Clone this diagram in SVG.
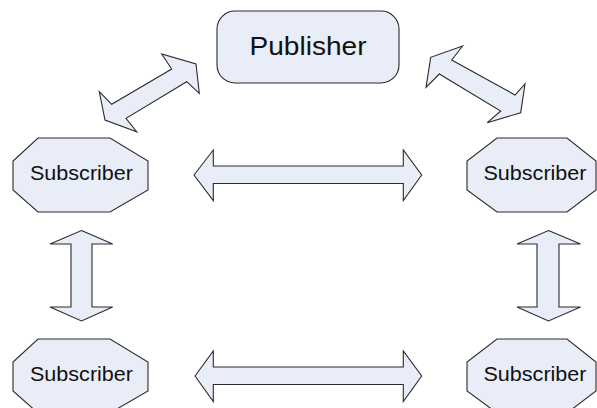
<svg xmlns="http://www.w3.org/2000/svg" width="597" height="408" viewBox="0 0 597 408">
<style>
.shape{fill:#e8edf8;stroke:#2b2b2b;stroke-width:1.1;stroke-linejoin:miter}
.arrow{fill:#e8edf8;stroke:#2b2b2b;stroke-width:1.1;stroke-linejoin:miter}
.lbl{font-family:"Liberation Sans",Arial,sans-serif;fill:#111;text-anchor:middle}
.sub{font-size:19.5px}
.pub{font-size:25px}
</style>
<rect width="597" height="408" fill="#ffffff"/>
<g id="connectors">
<polygon class="arrow" points="99.3,91.7 111.7,104.3 171.7,69 161.7,54 196,64 199.3,93.3 186.7,81.7 126,118.3 136.7,131.7 105,120"/>
<polygon class="arrow" points="462.7,46 430.7,57.3 426,87.3 439.3,74 500.7,111 487.3,122.7 520.7,112.7 525,84 515,95 451.7,60"/>
<polygon class="arrow" points="194,175 213.3,150 213.3,166 403.3,166 403.3,150 421.7,175 403.3,200.5 403.3,183.5 213.3,183.5 213.3,200.5"/>
<polygon class="arrow" points="195,376 213.3,351 213.3,367 403.3,367 403.3,351 421.7,376 403.3,401.5 403.3,384.5 213.3,384.5 213.3,401.5"/>
<polygon class="arrow" points="81.5,230.5 112.7,244 92,244 92,307 112.7,307 81.5,321 50,307 71,307 71,244 50,244"/>
<polygon class="arrow" points="548.5,230.5 580.5,244 559,244 559,307 580.5,307 548.5,321 517,307 537,307 537,244 517,244"/>
</g>
<g id="publisher">
<rect class="shape" x="217" y="11" width="182" height="72" rx="18" ry="18"/>
<text class="lbl pub" x="308" y="55" textLength="117" lengthAdjust="spacingAndGlyphs">Publisher</text>
</g>
<g id="subscriber-top-left">
<polygon class="shape" points="38,138 110,138 148,161 148,190 110,212 38,212 13,190 13,161"/>
<text class="lbl sub" x="81.5" y="180" textLength="103" lengthAdjust="spacingAndGlyphs">Subscriber</text>
</g>
<g id="subscriber-top-right">
<polygon class="shape" points="497,138 567,138 596,161 596,190 567,212 497,212 467,190 467,161"/>
<text class="lbl sub" x="535" y="180" textLength="103" lengthAdjust="spacingAndGlyphs">Subscriber</text>
</g>
<g id="subscriber-bottom-left">
<polygon class="shape" points="38,339 110,339 148,362 148,391 110,413 38,413 13,391 13,362"/>
<text class="lbl sub" x="81.5" y="381" textLength="103" lengthAdjust="spacingAndGlyphs">Subscriber</text>
</g>
<g id="subscriber-bottom-right">
<polygon class="shape" points="497,339 567,339 596,362 596,391 567,413 497,413 467,391 467,362"/>
<text class="lbl sub" x="535" y="381" textLength="103" lengthAdjust="spacingAndGlyphs">Subscriber</text>
</g>
</svg>
